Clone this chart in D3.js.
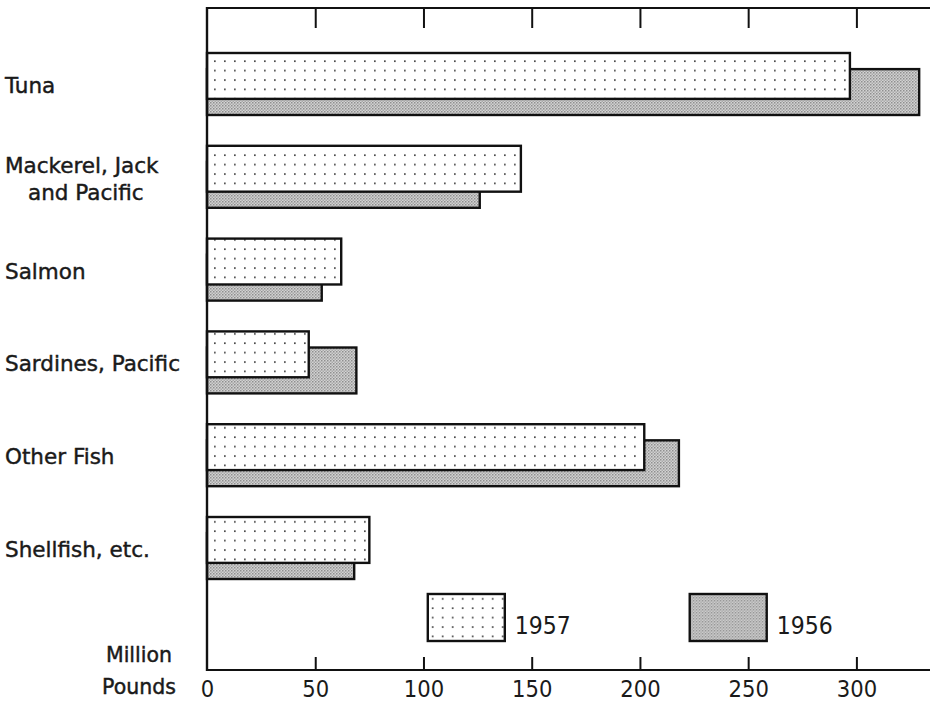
<!DOCTYPE html>
<html>
<head>
<meta charset="utf-8">
<script src="https://cdn.jsdelivr.net/npm/d3@7"></script>
<style>
  body { margin:0; background:#fff; }
  text { font-family: "DejaVu Sans", sans-serif; fill:#1a1a1a; }
  .num { font-family: "Liberation Sans Narrow", "DejaVu Sans Condensed", sans-serif; }
  .lab { stroke:#1a1a1a; stroke-width:0.45; }
</style>
</head>
<body>
<div id="canvas"></div>
<script>
// data (million pounds)
var categories = ['Tuna', 'Mackerel, Jack|and Pacific', 'Salmon', 'Sardines, Pacific', 'Other Fish', 'Shellfish, etc.'];
var values1957 = [297, 145, 62, 47, 202, 75];
var values1956 = [329, 126, 53, 69, 218, 68];
var tickValues = [0, 50, 100, 150, 200, 250, 300];
var years = ['1957', '1956'];

var W = 930, H = 703;
var svg = d3.select('#canvas').append('svg')
    .attr('width', W).attr('height', H);

// patterns
var defs = svg.append('defs');
var dots = defs.append('pattern').attr('id', 'dots')
    .attr('patternUnits', 'userSpaceOnUse')
    .attr('width', 10).attr('height', 9.4);
dots.append('rect').attr('width', 10).attr('height', 9.4).attr('fill', '#fff');
dots.append('rect').attr('x', 4).attr('y', 4).attr('width', 1.7).attr('height', 1.7).attr('fill', '#4a4a4a');

var screen = defs.append('pattern').attr('id', 'screen')
    .attr('patternUnits', 'userSpaceOnUse')
    .attr('width', 3).attr('height', 3);
screen.append('rect').attr('width', 3).attr('height', 3).attr('fill', '#d2d2d2');
screen.append('rect').attr('width', 1.5).attr('height', 1.5).attr('fill', '#8f8f8f');
screen.append('rect').attr('x', 1.5).attr('y', 1.5).attr('width', 1.5).attr('height', 1.5).attr('fill', '#a9a9a9');

var x0 = 207, yTop = 8, yBot = 670;

var scaleX = d3.scaleLinear()
    .domain([0, 334])
    .range([x0, W]);

var scaleY = d3.scaleBand()
    .domain(categories)
    .range([53, 579])
    .paddingInner(0.332)
    .paddingOuter(0);

var bw = scaleY.bandwidth();
var barH = bw * 0.74, shift = bw * 0.26;

var rows = categories.map(function(c, i){
    return {cat:c, v57:values1957[i], v56:values1956[i]};
});

// bars: 1956 drawn first, 1957 on top
var g = svg.append('g');
g.selectAll('.b56').data(rows).enter().append('rect')
    .attr('class', 'b56')
    .attr('x', scaleX(0))
    .attr('y', function(d){ return scaleY(d.cat) + shift; })
    .attr('width', function(d){ return scaleX(d.v56) - scaleX(0); })
    .attr('height', barH)
    .attr('fill', 'url(#screen)')
    .attr('stroke', '#111').attr('stroke-width', 2.4);

g.selectAll('.b57').data(rows).enter().append('rect')
    .attr('class', 'b57')
    .attr('x', scaleX(0))
    .attr('y', function(d){ return scaleY(d.cat); })
    .attr('width', function(d){ return scaleX(d.v57) - scaleX(0); })
    .attr('height', barH)
    .attr('fill', 'url(#dots)')
    .attr('stroke', '#111').attr('stroke-width', 2.4);

// axes
var axisBottom = d3.axisBottom(scaleX).tickValues(tickValues).tickSize(-13).tickPadding(10);
var axisTop = d3.axisTop(scaleX).tickValues(tickValues).tickSize(-20).tickFormat('');

var ab = svg.append('g').attr('transform', 'translate(0,' + yBot + ')').call(axisBottom);
var at = svg.append('g').attr('transform', 'translate(0,' + yTop + ')').call(axisTop);
[ab, at].forEach(function(a){
    a.select('.domain').remove();
    a.selectAll('.tick line').attr('stroke', '#111').attr('stroke-width', 2);
    a.selectAll('.tick').filter(function(d){ return d === 0; }).select('line').remove();
});
ab.selectAll('text').attr('class', 'num').attr('font-size', 23.5).attr('fill', '#1a1a1a')
    .attr('font-family', null);

// frame lines
svg.append('line').attr('x1', x0).attr('x2', W).attr('y1', yTop).attr('y2', yTop)
    .attr('stroke', '#111').attr('stroke-width', 2.2);
svg.append('line').attr('x1', x0).attr('x2', W).attr('y1', yBot).attr('y2', yBot)
    .attr('stroke', '#111').attr('stroke-width', 2.2);
svg.append('line').attr('x1', x0).attr('x2', x0).attr('y1', yTop - 1).attr('y2', yBot + 1)
    .attr('stroke', '#111').attr('stroke-width', 2.4);

// category labels
var labels = svg.append('g');
rows.forEach(function(d){
    var parts = d.cat.split('|');
    var cy = scaleY(d.cat) + bw / 2;
    var t = labels.append('text')
        .attr('class', 'lab')
        .attr('font-size', 21.5);
    if (parts.length === 1) {
        t.append('tspan').attr('x', 5).attr('y', cy + 9).text(parts[0]);
    } else {
        t.append('tspan').attr('x', 5).attr('y', cy - 4).text(parts[0]);
        t.append('tspan').attr('x', 28).attr('y', cy + 23).text(parts[1]);
    }
});

// unit label
svg.append('text').attr('class', 'lab').attr('x', 139).attr('y', 662).attr('text-anchor', 'middle')
    .attr('font-size', 20.5).text('Million');
svg.append('text').attr('class', 'lab').attr('x', 139).attr('y', 694).attr('text-anchor', 'middle')
    .attr('font-size', 20.5).text('Pounds');

// legend
var legendX = [102, 223];
var legend = svg.append('g').selectAll('g').data(years).enter().append('g')
    .attr('transform', function(d, i){ return 'translate(' + scaleX(legendX[i]) + ',594)'; });
legend.append('rect')
    .attr('width', 77).attr('height', 47)
    .attr('fill', function(d, i){ return i === 0 ? 'url(#dots)' : 'url(#screen)'; })
    .attr('stroke', '#111').attr('stroke-width', 2.4);
legend.append('text')
    .attr('class', 'num')
    .attr('x', 87).attr('y', 40)
    .attr('font-size', 24.5)
    .text(function(d){ return d; });
</script>
</body>
</html>
